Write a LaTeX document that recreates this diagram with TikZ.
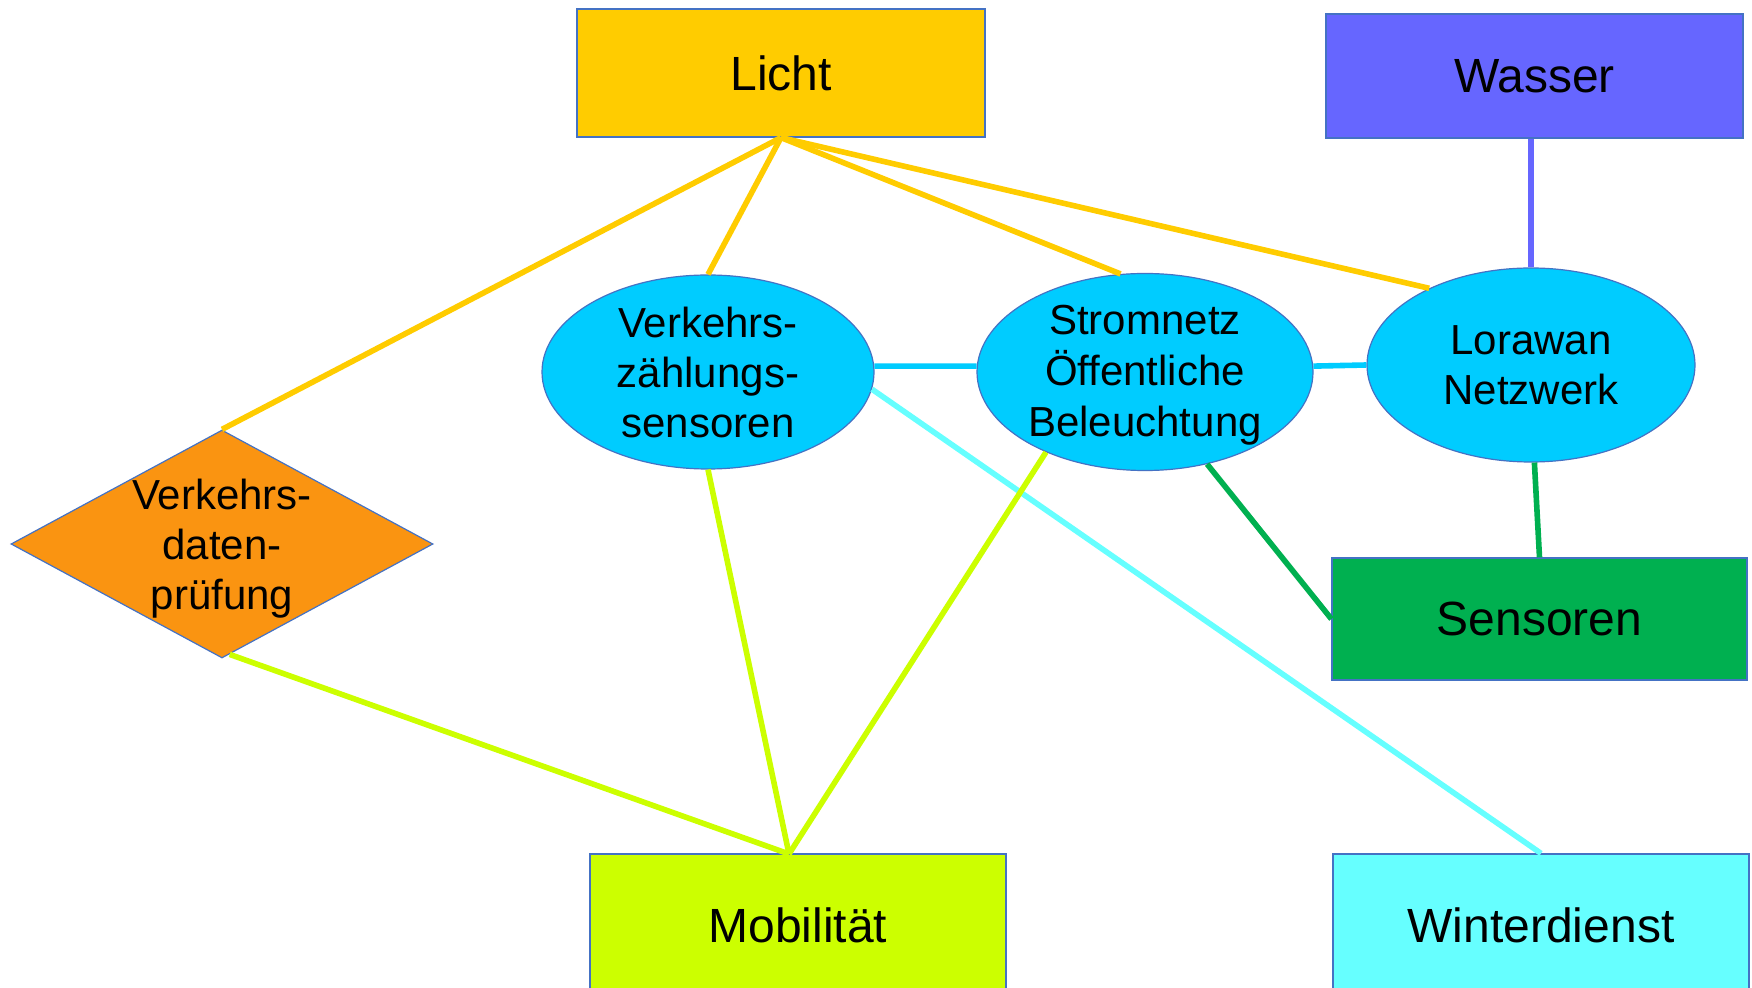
\documentclass[tikz,border=0pt]{standalone}
\usepackage{fontspec}
\setmainfont{Liberation Sans}
\usepackage{tikz}
\usetikzlibrary{shapes.geometric}

\definecolor{lichtgelb}{HTML}{FFCC00}
\definecolor{wasserblau}{HTML}{6666FF}
\definecolor{netzblau}{HTML}{00CCFF}
\definecolor{sensgruen}{HTML}{00B050}
\definecolor{prueforange}{RGB}{250,148,17}
\definecolor{mobgruen}{HTML}{CCFF00}
\definecolor{winterblau}{HTML}{66FFFF}
\definecolor{rand}{HTML}{4472C4}

\begin{document}
\begin{tikzpicture}[x=0.5pt,y=-0.5pt,
  kasten/.style={rectangle,draw=rand,line width=0.6pt,inner sep=0pt,
    font=\fontsize{24}{29}\selectfont},
  oval/.style={ellipse,draw=rand,line width=0.6pt,fill=netzblau,inner sep=0pt,
    align=center,font=\fontsize{21}{25}\selectfont},
  link/.style={line width=2.8pt}]
\clip (0,0) rectangle (1752,988);
\fill[white] (0,0) rectangle (1752,988);

\node (licht) at (781,73) [kasten,fill=lichtgelb,minimum width=204pt,minimum height=64pt]{Licht};
\node (wasser) at (1534.5,76) [kasten,fill=wasserblau,minimum width=208.5pt,minimum height=62pt]{Wasser};
\node (sens) at (1539.5,619) [kasten,fill=sensgruen,minimum width=207.5pt,minimum height=61pt]{Sensoren};
\node (mob) at (798,925) [kasten,fill=mobgruen,minimum width=208pt,minimum height=71pt]{Mobilität};
\node (winter) at (1541,925) [kasten,fill=winterblau,minimum width=208pt,minimum height=71pt]{Winterdienst};

\node (verk) at (708,372) [oval,minimum width=166pt,minimum height=97pt]{Verkehrs-\\zählungs-\\sensoren};
\node (strom) at (1145,372) [oval,inner ysep=-2pt,minimum width=168pt,minimum height=98pt,
  font=\fontsize{21}{25.5}\selectfont]{\rule{0pt}{18.3pt}Stromnetz\\Öffentliche\\Beleuchtung};
\node (lora) at (1531,365) [oval,minimum width=164pt,minimum height=97pt]{Lorawan\\Netzwerk};

\node (pruef) at (222,544) [diamond,draw=rand,line width=0.6pt,fill=prueforange,
  inner xsep=-3pt,inner ysep=-5pt,aspect=1.85,minimum width=211pt,minimum height=114pt,
  align=center,font=\fontsize{21}{25}\selectfont]{\rule{0pt}{20pt}Verkehrs-\\daten-\\prüfung};

\coordinate (mobtop) at (789,854);

\draw[link,lichtgelb] (licht.south)--(pruef.north);
\draw[link,lichtgelb] (licht.south)--(verk.north);
\draw[link,lichtgelb] (licht.south)--(strom.104);
\draw[link,lichtgelb] (licht.south)--(lora.143);
\draw[link,wasserblau] (wasser.south -| lora.north)--(lora.north);
\draw[link,netzblau] (verk.2)--(strom.178);
\draw[link,netzblau] (strom.2)--(lora.west);
\draw[link,sensgruen] (lora.-88)--(sens.north);
\draw[link,sensgruen] (strom.304)--(sens.west);
\draw[link,winterblau] (verk.-6)--(winter.north);
\draw[link,mobgruen] (verk.south)--(mobtop);
\draw[link,mobgruen] (strom.219)--(mobtop);
\draw[link,mobgruen] (pruef.-86)--(mobtop);
\end{tikzpicture}
\end{document}
